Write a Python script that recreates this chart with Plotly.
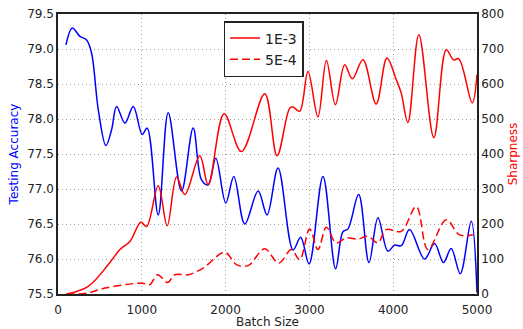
import plotly.graph_objects as go

# Testing accuracy (left axis), 1E-3 run
acc_x = [95, 171, 262, 342, 401, 481, 572, 640, 699, 799, 898, 1005, 1064, 1196, 1315,
         1474, 1613, 1713, 1792, 1883, 2002, 2098, 2229, 2388, 2495, 2626, 2805, 2896,
         2996, 3162, 3313, 3400, 3460, 3588, 3711, 3818, 3937, 4017, 4096, 4195, 4374,
         4493, 4600, 4692, 4800, 4931, 5000]
acc_y = [79.06, 79.30, 79.18, 79.13, 78.94, 78.13, 77.62, 77.85, 78.18, 77.94, 78.18, 77.78,
         77.87, 76.63, 78.09, 76.97, 77.87, 77.13, 77.06, 77.44, 76.80, 77.18, 76.50, 76.97,
         76.63, 77.30, 76.13, 76.31, 75.93, 77.18, 75.86, 76.39, 76.43, 76.92, 75.95, 76.59,
         76.11, 76.20, 76.19, 76.42, 76.00, 76.22, 75.95, 76.15, 75.79, 76.54, 75.52]

# Sharpness (right axis), lr 1E-3
s1_x = [100, 361, 600, 739, 858, 989, 1057, 1196, 1303, 1415, 1514, 1692, 1792, 1982, 2189,
        2467, 2614, 2765, 2805, 2884, 2983, 3102, 3203, 3310, 3421, 3512, 3639, 3797, 3925,
        4037, 4096, 4175, 4306, 4485, 4633, 4720, 4783, 4943, 5000]
s1_y = [0, 22, 84, 127, 150, 205, 193, 309, 195, 334, 284, 395, 312, 515, 407,
        572, 395, 531, 534, 522, 636, 506, 667, 541, 655, 615, 669, 543, 674,
        612, 574, 490, 741, 447, 698, 669, 672, 546, 627]

# Sharpness (right axis), lr 5E-4
s2_x = [100, 342, 560, 998, 1096, 1188, 1307, 1395, 1553, 1732, 1990, 2130, 2268, 2467,
        2634, 2785, 2884, 3003, 3102, 3203, 3318, 3437, 3579, 3698, 3818, 3914, 4096,
        4275, 4414, 4633, 4791, 4950]
s2_y = [0, 2, 17, 31, 27, 55, 33, 55, 55, 74, 119, 84, 81, 129,
        88, 127, 98, 186, 127, 191, 146, 160, 157, 165, 146, 184, 179,
        250, 127, 212, 169, 169]

x_ticks = [0, 1000, 2000, 3000, 4000, 5000]
acc_ticks = [75.5, 76.0, 76.5, 77.0, 77.5, 78.0, 78.5, 79.0, 79.5]
sharp_ticks = [0, 100, 200, 300, 400, 500, 600, 700, 800]

FONT = "DejaVu Sans"
GRID = dict(showgrid=True, gridcolor="#a0a0a0", griddash="1px,3px", gridwidth=1)
fig = go.Figure()
fig.add_trace(go.Scatter(x=acc_x, y=acc_y, mode="lines", showlegend=False,
                         line=dict(color="#0000ff", width=1.5, shape="spline", smoothing=1.0)))
fig.add_trace(go.Scatter(x=s1_x, y=s1_y, mode="lines", name="1E-3", yaxis="y2",
                         line=dict(color="#ff0000", width=1.5, shape="spline", smoothing=1.0)))
fig.add_trace(go.Scatter(x=s2_x, y=s2_y, mode="lines", name="5E-4", yaxis="y2",
                         line=dict(color="#ff0000", width=1.5, shape="spline", smoothing=1.0,
                                   dash="8px,4px")))

fig.update_layout(
    width=523, height=329,
    margin=dict(l=58, r=46, t=14, b=35),
    paper_bgcolor="white", plot_bgcolor="white",
    font=dict(family=FONT, size=12, color="#222222"),
    xaxis=dict(range=[0, 5000], tickvals=x_ticks, ticks="", automargin=False,
               ticklabelstandoff=4,
               showline=True, linecolor="#222222", linewidth=1.5, mirror=True,
               zeroline=False, **GRID,
               title=dict(text="Batch Size", font=dict(size=12, color="#222222"), standoff=2)),
    yaxis=dict(range=[75.5, 79.5], tickvals=acc_ticks, tickformat=".1f", ticks="",
               automargin=False, showline=True, linecolor="#222222", linewidth=1.5,
               zeroline=False, **GRID,
               title=dict(text="Testing Accuracy", font=dict(size=12, color="#0000ff"), standoff=6)),
    yaxis2=dict(range=[0, 800], tickvals=sharp_ticks, overlaying="y", side="right",
                ticks="", automargin=False, showline=True, linecolor="#222222", linewidth=1.5,
                showgrid=False, zeroline=False,
                title=dict(text="Sharpness", font=dict(size=12, color="#ff0000"), standoff=6)),
    legend=dict(x=0.395, y=0.975, xanchor="left", yanchor="top",
                bgcolor="white", bordercolor="#222222", borderwidth=1.5,
                font=dict(size=14, color="#222222")),
)

fig.write_html("out.html")
